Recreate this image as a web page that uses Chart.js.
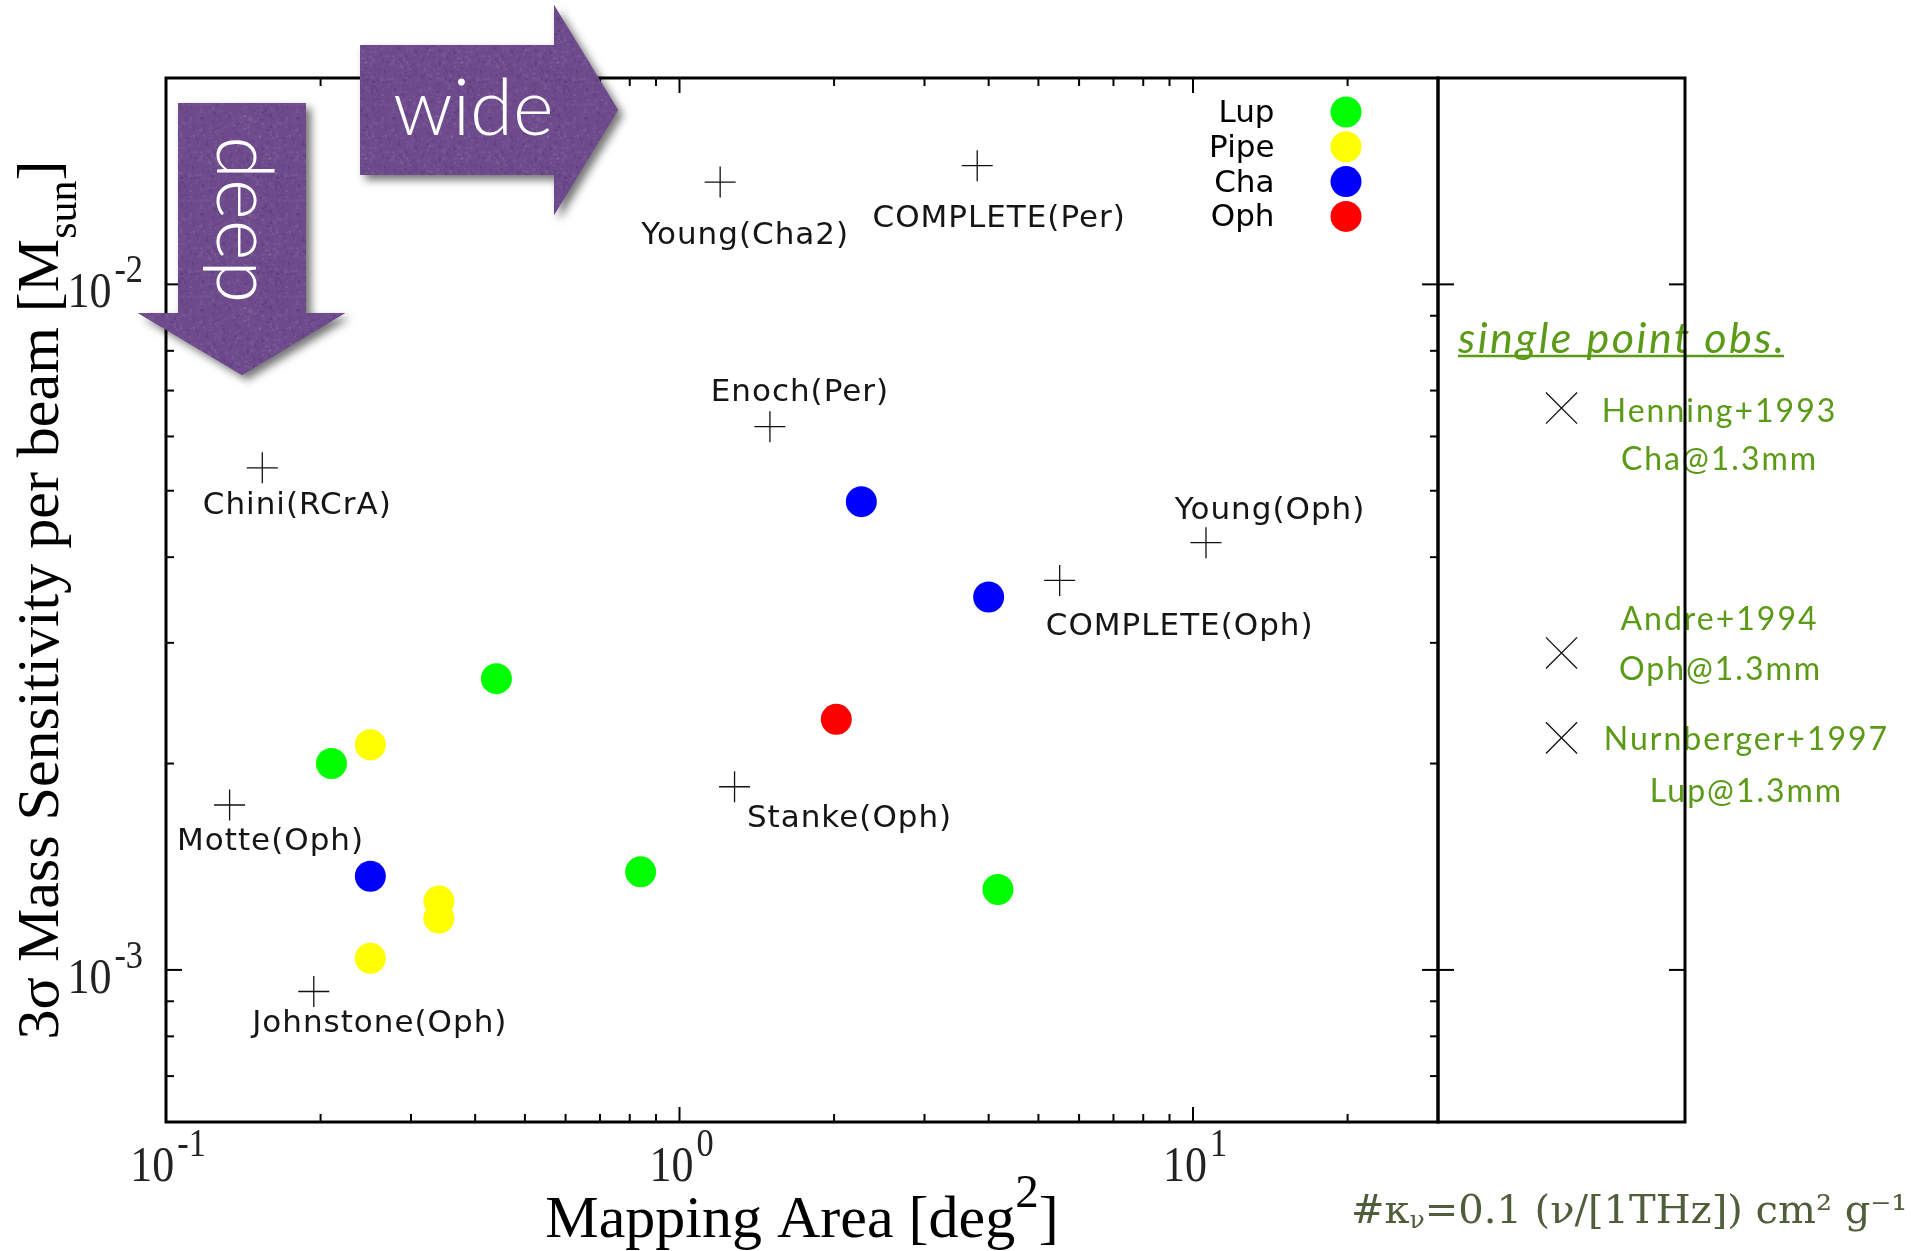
<!DOCTYPE html>
<html>
<head>
<meta charset="utf-8">
<script src="https://cdn.jsdelivr.net/npm/chart.js@4.4.1/dist/chart.umd.min.js"></script>
<style>
  html, body { margin: 0; padding: 0; background: #fff; }
  #wrap { position: relative; width: 1930px; height: 1251px; }
  #wrap canvas { position: absolute; left: 0; top: 0; }
</style>
</head>
<body>
<div id="wrap">
  <canvas id="mainChart" width="1930" height="1251"></canvas>
  <canvas id="pointChart" width="1930" height="1251"></canvas>
</div>
<script>
// mapping surveys: area [deg^2] vs 3 sigma mass sensitivity per beam [Msun]
const lupArea = [0.44, 0.21, 0.84, 4.17];
const lupSens = [2.66e-3, 2.0e-3, 1.39e-3, 1.31e-3];
const pipeArea = [0.25, 0.34, 0.34, 0.25];
const pipeSens = [2.13e-3, 1.26e-3, 1.19e-3, 1.04e-3];
const chaArea = [2.26, 4.0, 0.25];
const chaSens = [4.82e-3, 3.50e-3, 1.37e-3];
const ophArea = [2.02];
const ophSens = [2.32e-3];

const surveyNames = ['Young(Cha2)', 'COMPLETE(Per)', 'Enoch(Per)', 'Young(Oph)', 'COMPLETE(Oph)',
                     'Stanke(Oph)', 'Chini(RCrA)', 'Motte(Oph)', 'Johnstone(Oph)'];
const surveyArea = [1.20, 3.80, 1.50, 10.6, 5.50, 1.28, 0.154, 0.133, 0.194];
const surveySens = [1.41e-2, 1.49e-2, 6.2e-3, 4.2e-3, 3.7e-3, 1.85e-3, 5.4e-3, 1.74e-3, 9.3e-4];

// single pointing observations (right panel)
const singleNames = ['Henning+1993', 'Andre+1994', 'Nurnberger+1997'];
const singleTargets = ['Cha@1.3mm', 'Oph@1.3mm', 'Lup@1.3mm'];
const singleSens = [6.6e-3, 2.9e-3, 2.18e-3];

const xMajorTicks = [0.1, 1, 10];
const xMinorTicks = [0.2, 0.3, 0.4, 0.5, 0.6, 0.7, 0.8, 0.9, 2, 3, 4, 5, 6, 7, 8, 9, 20];
const yMajorTicks = [1e-3, 1e-2];
const yMinorTicks = [7e-4, 8e-4, 9e-4, 2e-3, 3e-3, 4e-3, 5e-3, 6e-3, 7e-3, 8e-3, 9e-3];

// label placement relative to each survey cross: [centre dx, baseline dy]
const surveyLabelOffset = {
  'Young(Cha2)': [25, 62], 'COMPLETE(Per)': [22, 61], 'Enoch(Per)': [30, -26],
  'Young(Oph)': [64, -24], 'COMPLETE(Oph)': [120, 55], 'Stanke(Oph)': [115, 40],
  'Chini(RCrA)': [35, 46], 'Motte(Oph)': [41, 45], 'Johnstone(Oph)': [66, 40]
};
const singleLabelOffset = [
  [[158, 14], [158, 62]],
  [[158, -23], [159, 27]],
  [[185, 12], [185, 64]]
];

const SERIF = '"Liberation Serif", "Times New Roman", serif';
const SANS = '"DejaVu Sans", Verdana, sans-serif';
const GREEN = '#5b9a16';
const PURPLE = '#6f4b8d';

function pts(xs, ys) {
  return xs.map((x, i) => ({ x: x, y: ys[i] }));
}

function line(ctx, x1, y1, x2, y2) {
  ctx.beginPath();
  ctx.moveTo(x1, y1);
  ctx.lineTo(x2, y2);
  ctx.stroke();
}

// "10" with a superscript exponent, horizontally condensed like the gnuplot font
function measurePow(ctx, exp) {
  ctx.font = '50px ' + SERIF;
  const w1 = ctx.measureText('10').width;
  ctx.font = '39px ' + SERIF;
  const w2 = ctx.measureText(String(exp)).width;
  return { w1: w1 * 0.88, w2: w2 * 0.88, total: (w1 + w2) * 0.88 + 3 };
}
function drawPow(ctx, x, y, exp) {
  const m = measurePow(ctx, exp);
  ctx.save();
  ctx.fillStyle = '#222';
  ctx.textBaseline = 'alphabetic';
  ctx.textAlign = 'left';
  ctx.translate(x, y);
  ctx.scale(0.88, 1);
  ctx.font = '50px ' + SERIF;
  ctx.fillText('10', 0, 0);
  ctx.font = '39px ' + SERIF;
  ctx.fillText(String(exp), m.w1 / 0.88 + 3 / 0.88, -25);
  ctx.restore();
}

// felt-paper look for the arrows: small tile of fixed speckles
function paperPattern(ctx) {
  const tile = document.createElement('canvas');
  tile.width = tile.height = 96;
  const t = tile.getContext('2d');
  t.fillStyle = PURPLE;
  t.fillRect(0, 0, 96, 96);
  let seed = 7;
  const next = () => (seed = (seed * 16807) % 2147483647) / 2147483647;
  for (let i = 0; i < 900; i++) {
    const shade = next() < 0.5 ? 'rgba(255,255,255,0.06)' : 'rgba(30,10,50,0.08)';
    t.fillStyle = shade;
    t.fillRect(next() * 96, next() * 96, 1 + next() * 2, 1 + next() * 2);
  }
  return ctx.createPattern(tile, 'repeat');
}

function drawArrow(ctx, poly) {
  ctx.save();
  ctx.fillStyle = PURPLE;
  ctx.shadowColor = 'rgba(0,0,0,0.55)';
  ctx.shadowBlur = 8;
  ctx.shadowOffsetX = 5;
  ctx.shadowOffsetY = 5;
  ctx.beginPath();
  poly.forEach(([px, py], i) => (i ? ctx.lineTo(px, py) : ctx.moveTo(px, py)));
  ctx.closePath();
  ctx.fill();
  ctx.shadowColor = 'transparent';
  ctx.fillStyle = paperPattern(ctx);
  ctx.fill();
  ctx.restore();
}

const mainFrame = {
  id: 'mainFrame',
  beforeDatasetsDraw(chart) {
    const ctx = chart.ctx;
    const { left, right, top, bottom } = chart.chartArea;
    const x = chart.scales.x, y = chart.scales.y;
    ctx.save();
    ctx.strokeStyle = '#000';
    ctx.lineWidth = 2;
    xMajorTicks.concat(xMinorTicks).forEach(v => {
      const px = x.getPixelForValue(v);
      const len = xMajorTicks.includes(v) ? 15 : 8;
      line(ctx, px, bottom, px, bottom - len);
      line(ctx, px, top, px, top + len);
    });
    yMajorTicks.concat(yMinorTicks).forEach(v => {
      const py = y.getPixelForValue(v);
      const len = yMajorTicks.includes(v) ? 16 : 8;
      line(ctx, left, py, left + len, py);
      line(ctx, right, py, right - len, py);
    });
    ctx.lineWidth = 3;
    ctx.strokeRect(left, top, right - left, bottom - top);

    // tick labels
    xMajorTicks.forEach(v => {
      const exp = Math.round(Math.log10(v));
      const m = measurePow(ctx, exp);
      drawPow(ctx, x.getPixelForValue(v) - m.total / 2 + 2, bottom + 59, exp);
    });
    yMajorTicks.forEach(v => {
      const exp = Math.round(Math.log10(v));
      const m = measurePow(ctx, exp);
      drawPow(ctx, left - 23 - m.total, y.getPixelForValue(v) + 23, exp);
    });

    // axis titles
    ctx.fillStyle = '#000';
    ctx.textAlign = 'left';
    ctx.textBaseline = 'alphabetic';
    ctx.font = '60px ' + SERIF;
    const xa = 'Mapping Area [deg', xb = ']';
    const wa = ctx.measureText(xa).width, wb = ctx.measureText(xb).width;
    ctx.font = '47px ' + SERIF;
    const ws = ctx.measureText('2').width;
    let sx = (left + right) / 2 - (wa + ws + wb) / 2;
    ctx.font = '60px ' + SERIF;
    ctx.fillText(xa, sx, bottom + 115);
    ctx.font = '47px ' + SERIF;
    ctx.fillText('2', sx + wa, bottom + 85);
    ctx.font = '60px ' + SERIF;
    ctx.fillText(xb, sx + wa + ws, bottom + 115);

    ctx.save();
    ctx.translate(58, (top + bottom) / 2);
    ctx.rotate(-Math.PI / 2);
    ctx.font = '60px ' + SERIF;
    const ya = '3\u03c3 Mass Sensitivity per beam [M', yb = ']';
    const wya = ctx.measureText(ya).width, wyb = ctx.measureText(yb).width;
    ctx.font = '42px ' + SERIF;
    const wys = ctx.measureText('sun').width;
    const sy = -(wya + wys + wyb) / 2;
    ctx.font = '60px ' + SERIF;
    ctx.fillText(ya, sy, 0);
    ctx.font = '42px ' + SERIF;
    ctx.fillText('sun', sy + wya, 18);
    ctx.font = '60px ' + SERIF;
    ctx.fillText(yb, sy + wya + wys, 0);
    ctx.restore();
    ctx.restore();
  },
  afterDatasetsDraw(chart) {
    const ctx = chart.ctx;
    const { right, top } = chart.chartArea;
    ctx.save();
    // survey names next to their crosses
    const meta = chart.getDatasetMeta(4);
    ctx.font = '31px ' + SANS;
    ctx.letterSpacing = '1px';
    ctx.fillStyle = '#151515';
    ctx.textAlign = 'center';
    ctx.textBaseline = 'alphabetic';
    meta.data.forEach((el, i) => {
      const off = surveyLabelOffset[surveyNames[i]];
      ctx.fillText(surveyNames[i], el.x + off[0], el.y + off[1]);
    });
    // legend of the filled symbols
    ctx.letterSpacing = '0px';
    ctx.textAlign = 'right';
    chart.data.datasets.slice(0, 4).forEach((ds, i) => {
      const cy = top + 34 + i * 34.8;
      ctx.fillStyle = ds.pointBackgroundColor;
      ctx.beginPath();
      ctx.arc(right - 92, cy, 15.5, 0, Math.PI * 2);
      ctx.fill();
      ctx.fillStyle = '#000';
      ctx.fillText(ds.label, right - 163.5, cy + 10);
    });
    ctx.restore();
  },
  afterDraw(chart) {
    const ctx = chart.ctx;
    const L = chart.chartArea.left, T = chart.chartArea.top;
    drawArrow(ctx, [[L + 194, T - 33], [L + 388, T - 33], [L + 388, T - 73], [L + 452, T + 32],
                    [L + 388, T + 137], [L + 388, T + 97], [L + 194, T + 97]]);
    drawArrow(ctx, [[L + 12, T + 25], [L + 140, T + 25], [L + 140, T + 235], [L + 179, T + 235],
                    [L + 76, T + 297], [L - 28, T + 235], [L + 12, T + 235]]);
    ctx.save();
    ctx.fillStyle = '#fff';
    ctx.font = '300 78px Lato, "Open Sans", sans-serif';
    ctx.textAlign = 'left';
    ctx.textBaseline = 'alphabetic';
    ctx.fillText('wide', L + 227, T + 57);
    ctx.translate(L + 51, T + 58);
    ctx.rotate(Math.PI / 2);
    ctx.fillText('deep', 0, 0);
    ctx.restore();
  }
};

function dotSet(label, color, xs, ys) {
  return {
    label: label,
    data: pts(xs, ys),
    pointStyle: 'circle',
    pointRadius: 15.5,
    pointBackgroundColor: color,
    pointBorderWidth: 0,
    showLine: false
  };
}

new Chart(document.getElementById('mainChart'), {
  type: 'scatter',
  data: {
    datasets: [
      dotSet('Lup', '#00ff00', lupArea, lupSens),
      dotSet('Pipe', '#ffff00', pipeArea, pipeSens),
      dotSet('Cha', '#0000ff', chaArea, chaSens),
      dotSet('Oph', '#ff0000', ophArea, ophSens),
      {
        label: 'surveys',
        data: pts(surveyArea, surveySens),
        pointStyle: 'cross',
        pointRadius: 15.5,
        pointBorderColor: '#111',
        pointBorderWidth: 1.3,
        showLine: false
      }
    ]
  },
  options: {
    responsive: false,
    animation: false,
    devicePixelRatio: 1,
    layout: { padding: { left: 166, top: 78, right: 492, bottom: 129 } },
    plugins: { legend: { display: false }, tooltip: { enabled: false } },
    scales: {
      x: { type: 'logarithmic', min: 0.1, max: 30, display: false },
      y: { type: 'logarithmic', min: 6e-4, max: 2e-2, display: false }
    }
  },
  plugins: [mainFrame]
});

const pointFrame = {
  id: 'pointFrame',
  beforeDraw(chart) {
    const ctx = chart.ctx;
    const { left, top } = chart.chartArea;
    const y = chart.scales.y, x = chart.scales.x;
    ctx.save();
    ctx.fillStyle = GREEN;
    ctx.strokeStyle = GREEN;
    ctx.textBaseline = 'alphabetic';
    ctx.textAlign = 'left';
    ctx.font = 'italic 43px Lato, "Open Sans", sans-serif';
    ctx.letterSpacing = '2.5px';
    const title = 'single point obs.';
    const tw = ctx.measureText(title).width - 2.5;
    ctx.fillText(title, left + 20, top + 275);
    ctx.lineWidth = 2.5;
    line(ctx, left + 20, top + 278, left + 20 + tw, top + 278);

    ctx.font = '32px Lato, "Open Sans", sans-serif';
    ctx.letterSpacing = '2px';
    ctx.textAlign = 'center';
    singleSens.forEach((v, i) => {
      const cx = x.getPixelForValue(0.5), cy = y.getPixelForValue(v);
      const [a, b] = singleLabelOffset[i];
      ctx.fillText(singleNames[i], cx + a[0], cy + a[1]);
      ctx.fillText(singleTargets[i], cx + b[0], cy + b[1]);
    });
    ctx.restore();
  },
  beforeDatasetsDraw(chart) {
    const ctx = chart.ctx;
    const { left, right, top, bottom } = chart.chartArea;
    const y = chart.scales.y;
    ctx.save();
    ctx.strokeStyle = '#000';
    ctx.lineWidth = 2;
    yMajorTicks.forEach(v => {
      const py = y.getPixelForValue(v);
      line(ctx, left, py, left + 16, py);
      line(ctx, right, py, right - 16, py);
    });
    ctx.lineWidth = 3;
    ctx.strokeRect(left, top, right - left, bottom - top);
    ctx.restore();
  },
  afterDraw(chart) {
    const ctx = chart.ctx;
    const { right, bottom } = chart.chartArea;
    ctx.save();
    ctx.fillStyle = '#4f5d3b';
    ctx.textBaseline = 'alphabetic';
    ctx.textAlign = 'left';
    const big = '40px "DejaVu Serif", ' + SERIF, small = '25px "DejaVu Serif", ' + SERIF;
    let nx = right - 334;
    const ny = bottom + 101;
    ctx.font = big;
    ctx.fillText('#\u03ba', nx, ny);
    nx += ctx.measureText('#\u03ba').width;
    ctx.font = small;
    ctx.fillText('\u03bd', nx, ny + 5);
    nx += ctx.measureText('\u03bd').width;
    ctx.font = big;
    ctx.fillText('=0.1 (\u03bd/[1THz]) cm\u00b2 g\u207b\u00b9', nx, ny);
    ctx.restore();
  }
};

new Chart(document.getElementById('pointChart'), {
  type: 'scatter',
  data: {
    datasets: [{
      label: 'single point obs.',
      data: singleSens.map(v => ({ x: 0.5, y: v })),
      pointStyle: 'crossRot',
      pointRadius: 22,
      pointBorderColor: '#111',
      pointBorderWidth: 1.3,
      showLine: false
    }]
  },
  options: {
    responsive: false,
    animation: false,
    devicePixelRatio: 1,
    layout: { padding: { left: 1438, top: 78, right: 245, bottom: 129 } },
    plugins: { legend: { display: false }, tooltip: { enabled: false } },
    scales: {
      x: { type: 'linear', min: 0, max: 1, display: false },
      y: { type: 'logarithmic', min: 6e-4, max: 2e-2, display: false }
    }
  },
  plugins: [pointFrame]
});
</script>
</body>
</html>
